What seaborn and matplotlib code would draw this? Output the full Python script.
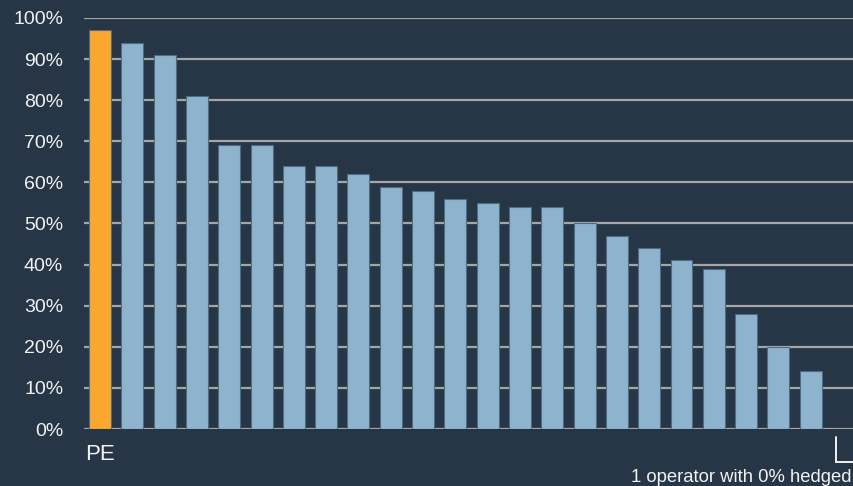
import matplotlib
matplotlib.use("Agg")
import matplotlib.pyplot as plt
import matplotlib.transforms as mtransforms
import seaborn as sns

# Share of production hedged, per operator (PE first, then peers, descending)
operators = ["PE"] + [f"Op{i}" for i in range(1, 24)]
hedged_pct = [97, 94, 91, 81, 69, 69, 64, 64, 62, 59, 58, 56, 55, 54, 54,
              50, 47, 44, 41, 39, 28, 20, 14, 0]
tick_labels = ["PE"] + [""] * 23
y_ticks = list(range(0, 101, 10))
y_tick_labels = [f"{t}%" for t in y_ticks]
note_text = "1 operator with 0% hedged"

BG = "#263646"
BAR = "#8db4cc"
HIGHLIGHT = "#f9a72f"
GRID = "#a6a6a6"
TEXT = "#f2f2f2"

sns.set_theme(style="white")
plt.rcParams["font.family"] = ["Liberation Sans", "DejaVu Sans"]

fig = plt.figure(figsize=(8.54, 4.86), dpi=100, facecolor=BG)
ax = fig.add_axes([84 / 854, 57 / 486, 770 / 854, 411 / 486])
ax.set_facecolor(BG)

palette = {op: (HIGHLIGHT if op == "PE" else BAR) for op in operators}
sns.barplot(x=operators, y=hedged_pct, hue=operators, palette=palette,
            legend=False, width=0.68, saturation=1, ax=ax,
            edgecolor="#4e6c84", linewidth=0.8, zorder=3)

ax.set_ylim(0, 100)
ax.set_xlim(-0.495, 23.34)
ax.set_yticks(y_ticks)
ax.set_yticklabels(y_tick_labels)
ax.set_xticks(range(len(operators)))
ax.set_xticklabels(tick_labels)
ax.tick_params(axis="y", length=0, pad=15, labelsize=14, labelcolor=TEXT)
ax.tick_params(axis="x", length=0, pad=11, labelsize=16, labelcolor=TEXT)
ax.yaxis.grid(True, color=GRID, linewidth=1.6, zorder=0)
ax.set_axisbelow(True)
for s in ax.spines.values():
    s.set_visible(False)
ax.set_xlabel("")
ax.set_ylabel("")

# Bracket marking the operator with no hedging
trans = mtransforms.blended_transform_factory(ax.transData, ax.transAxes)
ax.plot([22.79, 22.79, 23.34], [-0.019, -0.080, -0.080], color=TEXT,
        linewidth=1.4, transform=trans, clip_on=False, solid_joinstyle="miter")

fig.text(852 / 854, 1 - 477 / 486, note_text, ha="right", va="center",
         fontsize=13.3, color=TEXT)

fig.savefig("out.png", dpi=100, facecolor=BG)
